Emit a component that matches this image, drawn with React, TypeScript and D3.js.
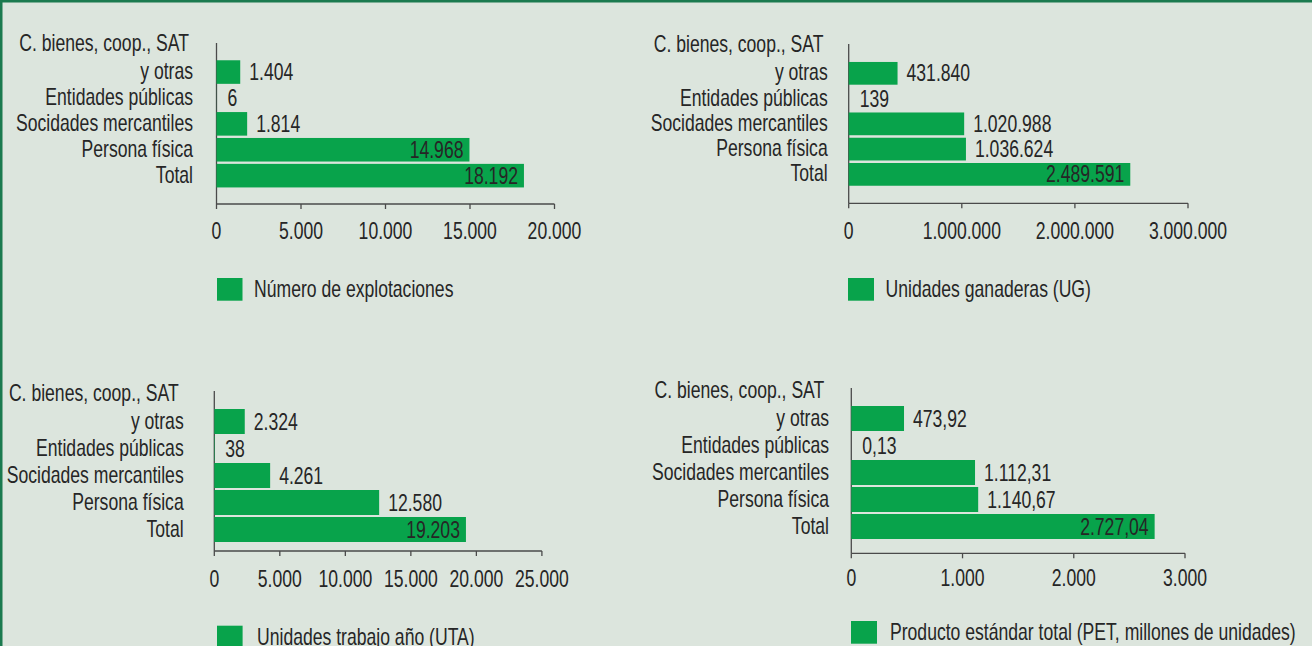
import React from "react";
import * as d3 from "d3";

// ---------- data ----------
const categories = ["y otras", "Entidades públicas", "Socidades mercantiles", "Persona física", "Total"];
const categoryFirstLine = "C. bienes, coop., SAT";

const explotaciones = [1404, 6, 1814, 14968, 18192];
const unidadesGanaderas = [431840, 139, 1020988, 1036624, 2489591];
const unidadesTrabajo = [2324, 38, 4261, 12580, 19203];
const productoEstandar = [473.92, 0.13, 1112.31, 1140.67, 2727.04];

const explotacionesTicks = [0, 5000, 10000, 15000, 20000];
const ugTicks = [0, 1000000, 2000000, 3000000];
const utaTicks = [0, 5000, 10000, 15000, 20000, 25000];
const petTicks = [0, 1000, 2000, 3000];

const explotacionesInside = [false, false, false, true, true];
const ugInside = [false, false, false, false, true];
const utaInside = [false, false, false, false, true];
const petInside = [false, false, false, false, true];

const legendLabels = [
  "Número de explotaciones",
  "Unidades ganaderas (UG)",
  "Unidades trabajo año (UTA)",
  "Producto estándar total (PET, millones de unidades)",
];

// ---------- formatting ----------
const es = d3.formatLocale({ decimal: ",", thousands: ".", grouping: [3], currency: ["", " €"] });
const intFmt = es.format(",d");
const decFmt = es.format(",.2f");

// ---------- style ----------
const BG = "#dce5dd";
const FRAME = "#1b7a4f";
const BAR = "#08a34b";
const TEXT = "#262626";
const AXIS = "#4a4a4a";
const FONT = "'Liberation Sans', Arial, sans-serif";
const FS = 23;
const SX = 0.765; // horizontal condensation to mimic the condensed typeface

function Txt({ x, y, anchor = "start", children }: any) {
  return (
    <text
      transform={`translate(${x},${y}) scale(${SX},1)`}
      dy="0.35em"
      textAnchor={anchor}
      fill={TEXT}
      fontSize={FS}
      fontFamily={FONT}
    >
      {children}
    </text>
  );
}

type Layout = {
  x0: number; x1: number; axisTop: number; axisY: number;
  band: [number, number]; pad: number;
  labelX: number; firstLineX: number; tickY: number;
  legendX: number; legendY: number; legendW: number; legendH: number; legendTextX: number;
};

const panels = [
  {
    values: explotaciones, ticks: explotacionesTicks, inside: explotacionesInside, fmt: intFmt, legend: legendLabels[0],
    layout: { x0: 216.5, x1: 554.5, axisTop: 43, axisY: 204, band: [59.1, 188.6], pad: 0.09,
      labelX: 193, firstLineX: 189, tickY: 231, legendX: 217, legendY: 278, legendW: 25.5, legendH: 22.7, legendTextX: 254 } as Layout,
  },
  {
    values: unidadesGanaderas, ticks: ugTicks, inside: ugInside, fmt: intFmt, legend: legendLabels[1],
    layout: { x0: 848.7, x1: 1188, axisTop: 44, axisY: 203.3, band: [60.7, 187], pad: 0.1,
      labelX: 827.7, firstLineX: 823.5, tickY: 231, legendX: 848, legendY: 278, legendW: 26, legendH: 22.7, legendTextX: 885.6 } as Layout,
  },
  {
    values: unidadesTrabajo, ticks: utaTicks, inside: utaInside, fmt: intFmt, legend: legendLabels[2],
    layout: { x0: 214.3, x1: 541.9, axisTop: 391, axisY: 551, band: [408, 543], pad: 0.074,
      labelX: 183.7, firstLineX: 178.7, tickY: 579, legendX: 217, legendY: 625.7, legendW: 25.6, legendH: 22.7, legendTextX: 257 } as Layout,
  },
  {
    values: productoEstandar, ticks: petTicks, inside: petInside, fmt: decFmt, legend: legendLabels[3],
    layout: { x0: 851.3, x1: 1185, axisTop: 388, axisY: 553.3, band: [405, 540], pad: 0.074,
      labelX: 829, firstLineX: 824.3, tickY: 578, legendX: 851, legendY: 621, legendW: 26, legendH: 22.7, legendTextX: 890 } as Layout,
  },
];

function Panel({ values, ticks, inside, fmt, legend, layout }: any) {
  const L: Layout = layout;
  const x = d3.scaleLinear().domain([ticks[0], ticks[ticks.length - 1]]).range([L.x0, L.x1]);
  const y = d3.scaleBand<string>().domain(categories).range(L.band).paddingInner(L.pad).paddingOuter(L.pad / 2);
  const bw = y.bandwidth();
  return (
    <g>
      <line x1={L.x0} x2={L.x0} y1={L.axisTop} y2={L.axisY} stroke={AXIS} strokeWidth={1.3} />
      <line x1={L.x0} x2={L.x1} y1={L.axisY} y2={L.axisY} stroke={AXIS} strokeWidth={1.3} />
      {ticks.map((t: number) => (
        <g key={t}>
          <line x1={x(t)} x2={x(t)} y1={L.axisY} y2={L.axisY + 5} stroke={AXIS} strokeWidth={1.3} />
          <Txt x={x(t)} y={L.tickY} anchor="middle">{intFmt(t)}</Txt>
        </g>
      ))}
      {categories.map((c, i) => (
        <rect key={c} x={x(0)} y={y(c)!} width={Math.max(x(values[i]) - x(0), 0)} height={bw} fill={BAR} />
      ))}
      {categories.map((c, i) => {
        const cy = y(c)! + bw / 2 - 1;
        return (
          <g key={"l" + c}>
            {i === 0 && <Txt x={L.firstLineX} y={cy - 28} anchor="end">{categoryFirstLine}</Txt>}
            <Txt x={L.labelX} y={cy} anchor="end">{c}</Txt>
          </g>
        );
      })}
      {categories.map((c, i) => {
        const cy = y(c)! + bw / 2;
        const end = x(values[i]);
        const ins = inside[i];
        return (
          <Txt key={"v" + c} x={ins ? end - 6 : Math.max(end, x(0) + 2) + 9} y={cy} anchor={ins ? "end" : "start"}>
            {fmt(values[i])}
          </Txt>
        );
      })}
      <rect x={L.legendX} y={L.legendY} width={L.legendW} height={L.legendH} fill={BAR} />
      <Txt x={L.legendTextX} y={L.legendY + L.legendH / 2}>{legend}</Txt>
    </g>
  );
}

export default function App() {
  const W = 1312, H = 646;
  return (
    <div style={{ position: "absolute", left: 0, top: 0 }}>
      <svg width={W} height={H} style={{ display: "block" }}>
        <rect x={0} y={0} width={W} height={H} fill={BG} />
        <rect x={0} y={0} width={W} height={2.5} fill={FRAME} />
        <rect x={0} y={0} width={2.5} height={H} fill={FRAME} />
        {panels.map((p, i) => (
          <Panel key={i} {...p} />
        ))}
      </svg>
    </div>
  );
}
